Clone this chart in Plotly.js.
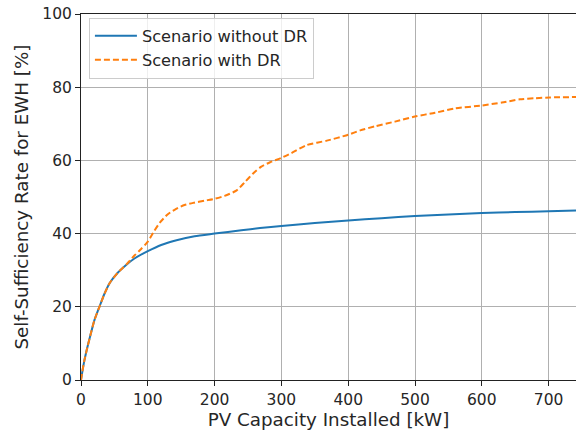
<!DOCTYPE html>
<html>
<head>
<meta charset="utf-8">
<script src="https://cdn.plot.ly/plotly-3.0.1.min.js"></script>
<style>html,body{margin:0;padding:0;background:#fff;}#chart{width:576px;height:432px;}</style>
</head>
<body>
<div id="chart"></div>
<script>
const xWithout = [0, 2, 5, 10, 15, 20, 28, 35, 43, 55, 68, 80, 100, 120, 143, 170, 200, 240, 268, 300, 350, 400, 450, 500, 550, 600, 650, 700, 741];
const yWithout = [0, 2.3, 5.3, 9.3, 12.9, 16.3, 20.2, 23.5, 26.5, 29.3, 31.5, 33.2, 35.2, 36.9, 38.2, 39.3, 40, 40.9, 41.5, 42.1, 42.9, 43.6, 44.2, 44.8, 45.2, 45.6, 45.9, 46.1, 46.3];

const xWith = [0, 2, 5, 10, 15, 20, 28, 35, 43, 55, 68, 80, 90, 100, 110, 118, 130, 143, 155, 168, 185, 200, 215, 233, 245, 258, 270, 283, 300, 315, 338, 368, 400, 418, 440, 470, 500, 530, 560, 600, 630, 657, 680, 702, 741];
const yWith = [0, 2.3, 5.3, 9.3, 12.9, 16.3, 20.2, 23.5, 26.5, 29.3, 31.6, 34, 35.8, 37.8, 40.8, 43, 45.3, 46.8, 47.8, 48.4, 49, 49.5, 50.3, 51.8, 54, 56.5, 58.3, 59.5, 60.7, 62, 64.2, 65.4, 67, 68.2, 69.3, 70.6, 72, 73, 74.2, 75, 75.8, 76.7, 77.0, 77.2, 77.3];

const seriesNames = ["Scenario without DR", "Scenario with DR"];
const xTicks = [0, 100, 200, 300, 400, 500, 600, 700];
const yTicks = [0, 20, 40, 60, 80, 100];

const tickFont = {family: "DejaVu Sans", size: 15.5, color: "#262626"};
const titleFont = {family: "DejaVu Sans", size: 18.3, color: "#262626"};
const legendFont = {family: "DejaVu Sans", size: 16.2, color: "#262626"};

const traces = [
  {x: xWithout, y: yWithout, name: seriesNames[0], mode: "lines",
   line: {color: "#1f77b4", width: 2, shape: "spline", smoothing: 0.6}},
  {x: xWith, y: yWith, name: seriesNames[1], mode: "lines",
   line: {color: "#ff7f0e", width: 2, dash: "6px,3px", shape: "spline", smoothing: 0.6}}
];

const layout = {
  width: 576, height: 432,
  margin: {l: 81, r: 0, t: 14, b: 52},
  paper_bgcolor: "#fff", plot_bgcolor: "#fff",
  font: tickFont,
  showlegend: true,
  legend: {x: 0.016, y: 0.99, xanchor: "left", yanchor: "top",
           bgcolor: "rgba(255,255,255,0.8)", bordercolor: "#cccccc", borderwidth: 1,
           font: legendFont, tracegroupgap: 0, itemwidth: 42},
  xaxis: {range: [0, 741], tickvals: xTicks, ticktext: xTicks.map(String),
          showgrid: true, gridcolor: "#b0b0b0", gridwidth: 1,
          showline: true, linecolor: "#222", linewidth: 1, mirror: true,
          ticks: "outside", ticklen: 5, tickcolor: "#222", zeroline: false,
          tickfont: tickFont,
          title: {text: "PV Capacity Installed [kW]", font: titleFont, standoff: 4}},
  yaxis: {range: [0, 100], tickvals: yTicks, ticktext: yTicks.map(String),
          showgrid: true, gridcolor: "#b0b0b0", gridwidth: 1,
          showline: true, linecolor: "#222", linewidth: 1,
          ticks: "outside", ticklen: 5, tickcolor: "#222", zeroline: false,
          tickfont: tickFont,
          title: {text: "Self-Sufficiency Rate for EWH [%]", font: titleFont, standoff: 8}}
};

Plotly.newPlot("chart", traces, layout, {staticPlot: true, displayModeBar: false});
</script>
</body>
</html>
